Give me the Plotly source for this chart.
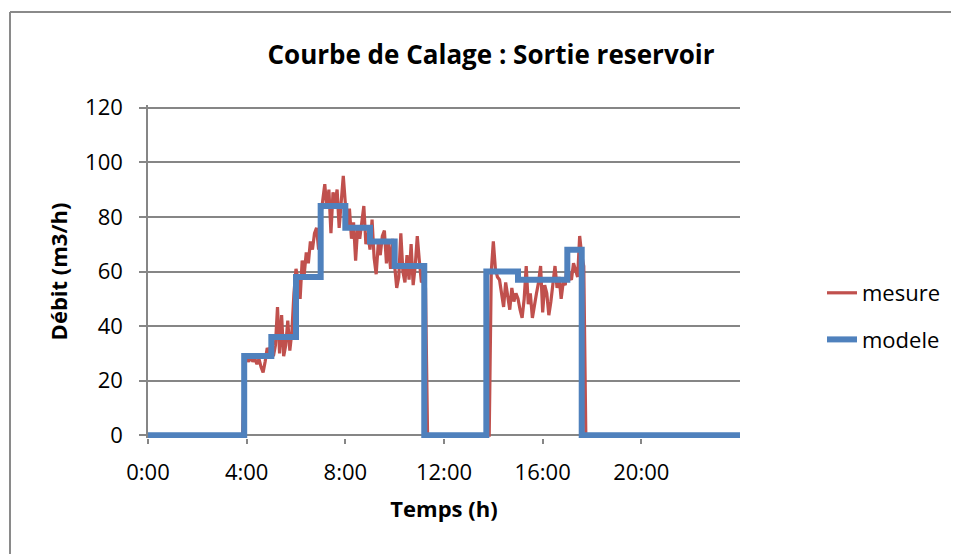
import plotly.graph_objects as go

# ---------------- data ----------------
title_text = "Courbe de Calage : Sortie reservoir"
x_title = "Temps (h)"
y_title = "Débit (m3/h)"
x_tick_vals_h = [0, 4, 8, 12, 16, 20]
x_tick_text = ["0:00", "4:00", "8:00", "12:00", "16:00", "20:00"]
y_tick_vals = [0, 20, 40, 60, 80, 100, 120]

# measured flow, 5-minute samples
mesure_step_min = 5
mesure_start_1 = "3:50"
mesure_vals_1 = [
    0, 27,
    28, 27, 29, 27, 28, 26, 28, 25, 23, 27, 32, 30,
    34, 29, 33, 47, 30, 44, 29, 33, 42, 31, 38, 52,
    61, 57, 50, 64, 59, 67, 63, 71, 68, 74, 76, 68,
    80, 86, 92, 83, 90, 74, 89, 85, 90, 76, 86, 95,
    85, 76, 83, 72, 78, 64, 76, 72, 78, 84, 70, 74,
    68, 79, 65, 59, 70, 66, 73, 75, 63, 70, 61, 72,
    62, 54, 58, 74, 60, 56, 66, 57, 70, 55, 62, 73,
    64, 56, 57, 54, 0,
]
mesure_start_2 = "13:50"
mesure_vals_2 = [
    0, 60,
    71, 61, 58, 57, 52, 47, 56, 50, 46, 54, 49, 52,
    50, 46, 43, 50, 62, 48, 52, 43, 48, 52, 56, 62,
    45, 55, 52, 44, 49, 57, 62, 54, 58, 50, 56, 55,
    64, 58, 57, 63, 60, 58, 73, 66, 62, 0,
]
mesure_end = "24:00"

# model flow (step function)
modele_t = ["0:00", "3:54", "5:00", "6:00", "7:00", "8:00", "9:00", "10:00",
            "11:12", "13:43", "15:00", "17:00", "17:35", "24:00"]
modele_v = [0, 29, 36, 58, 84, 76, 71, 62, 0, 60, 57, 68, 0, 0]


def to_h(s):
    h, m = s.split(":")
    return int(h) + int(m) / 60.0


mes_x = [0.0]
mes_y = [0]
for start, vals in ((mesure_start_1, mesure_vals_1), (mesure_start_2, mesure_vals_2)):
    t0 = to_h(start)
    for i, v in enumerate(vals):
        mes_x.append(t0 + i * mesure_step_min / 60.0)
        mes_y.append(v)
mes_x.append(to_h(mesure_end))
mes_y.append(0)

mod_x = [to_h(s) for s in modele_t]

FONT = "Open Sans"
GRID = "#868686"

# figure geometry (page is offset by the 8px body margin)
W, H = 951, 546
L, R, T, B = 140, 219, 97, 116
PW, PH = W - L - R, H - T - B


def px_to_paper_x(px):
    return (px - L) / PW


def px_to_paper_y(py):
    return (H - B - py) / PH


fig = go.Figure()
fig.add_trace(go.Scatter(
    x=mes_x, y=mes_y, mode="lines", name="mesure",
    line=dict(color="#C0504D", width=3.2), legendgroup="a",
))
fig.add_trace(go.Scatter(
    x=mod_x, y=modele_v, mode="lines", name="modele", line_shape="hv",
    line=dict(color="#4F81BD", width=6), legendgroup="b",
))

fig.update_layout(
    width=W, height=H,
    margin=dict(l=L, r=R, t=T, b=B),
    paper_bgcolor="white", plot_bgcolor="white",
    font=dict(family=FONT, color="#000000", size=22),
    title=dict(text="<b>" + title_text + "</b>", x=483 / W, xanchor="center",
               y=1 - 47 / H, yanchor="middle", font=dict(size=26, family=FONT)),
    showlegend=True,
    legend=dict(x=px_to_paper_x(814), xanchor="left",
                y=px_to_paper_y(308.5), yanchor="middle",
                font=dict(size=22, family=FONT), tracegroupgap=15,
                bgcolor="rgba(0,0,0,0)"),
    xaxis=dict(
        range=[0, 24], tickvals=x_tick_vals_h, ticktext=x_tick_text,
        showgrid=False, zeroline=False, showline=False,
        ticks="outside", ticklen=5, tickcolor=GRID, tickwidth=1.5,
        tickfont=dict(size=22), ticklabelstandoff=10,
        title=dict(text="<b>" + x_title + "</b>", font=dict(size=22), standoff=16),
        fixedrange=True,
    ),
    yaxis=dict(
        range=[-1, 121], tickvals=y_tick_vals,
        showgrid=True, gridcolor=GRID, gridwidth=1.5,
        zeroline=True, zerolinecolor=GRID, zerolinewidth=1.5,
        showline=True, linecolor=GRID, linewidth=1.5,
        ticks="outside", ticklen=7, tickcolor=GRID, tickwidth=1.5,
        tickfont=dict(size=22), ticklabelstandoff=12,
        title=dict(text="<b>" + y_title + "</b>", font=dict(size=22), standoff=11),
        fixedrange=True, layer="below traces",
    ),
)

# outer chart frame (left and top edges visible)
fx0 = px_to_paper_x(2)
fx1 = px_to_paper_x(950)
fy_top = px_to_paper_y(4)
fig.add_shape(type="line", xref="paper", yref="paper",
              x0=fx0, x1=fx0, y0=fy_top, y1=px_to_paper_y(H + 20),
              line=dict(color="#8a8a8a", width=2))
fig.add_shape(type="line", xref="paper", yref="paper",
              x0=fx0, x1=fx1, y0=fy_top, y1=fy_top,
              line=dict(color="#8a8a8a", width=2))

fig.write_html("out.html")
